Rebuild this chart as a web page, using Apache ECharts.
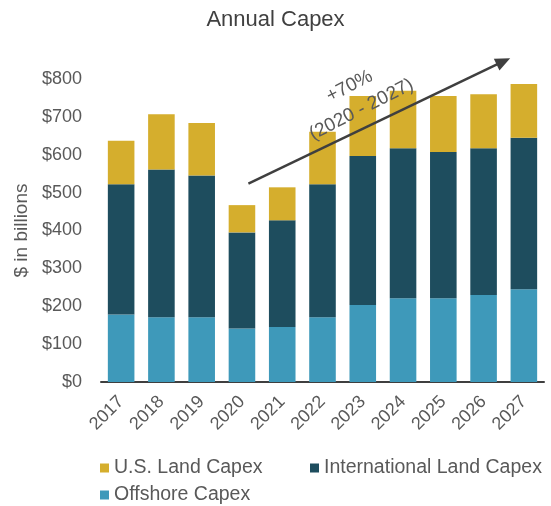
<!DOCTYPE html>
<html>
<head>
<meta charset="utf-8">
<script src="https://cdn.jsdelivr.net/npm/echarts@6/dist/echarts.min.js"></script>
<style>
  html, body { margin: 0; padding: 0; background: #ffffff; }
  #chart { width: 551px; height: 506px; }
</style>
</head>
<body>
<div id="chart"></div>
<script>
// Annual capex by segment, $ billions (stacked)
const years = ['2017', '2018', '2019', '2020', '2021', '2022', '2023', '2024', '2025', '2026', '2027'];
const offshoreCapex = [178, 171, 171, 141, 145, 171, 203, 221, 221, 230, 245];
const internationalLandCapex = [344, 390, 374, 254, 282, 351, 394, 396, 386, 387, 400];
const usLandCapex = [115, 146, 139, 72, 87, 139, 158, 152, 148, 143, 142];

// Growth annotation: arrow from/to (category index, value) and label anchor
const growthLabel = '+70%\n(2020 - 2027)';
const arrowFrom = [3.16, 524];
const arrowTo = [9.66, 855];
const labelAt = [5.82, 750];

const FONT = '"Liberation Sans", Arial, Helvetica, sans-serif';
const TEXT = '#595959';
const C_US = '#D5AE2D';
const C_INTL = '#1E4D5E';
const C_OFF = '#3E99BA';

const chart = echarts.init(document.getElementById('chart'), null, { renderer: 'canvas' });

const legendBase = {
  orient: 'horizontal',
  padding: 0,
  icon: 'rect',
  itemWidth: 9,
  itemHeight: 9,
  itemGap: 10,
  textStyle: { fontFamily: FONT, fontSize: 19.5, color: TEXT },
  selectedMode: false
};

chart.setOption({
  animation: false,
  backgroundColor: '#ffffff',
  title: {
    text: 'Annual Capex',
    left: 'center',
    top: 9,
    padding: 0,
    textStyle: { fontFamily: FONT, fontSize: 22, fontWeight: 'normal', color: '#404040' }
  },
  legend: [
    Object.assign({}, legendBase, { data: ['U.S. Land Capex'], left: 100, top: 458 }),
    Object.assign({}, legendBase, { data: ['International Land Capex'], left: 310, top: 458 }),
    Object.assign({}, legendBase, { data: ['Offshore Capex'], left: 100, top: 485 })
  ],
  grid: { left: 101, right: 7, top: 79, bottom: 124, containLabel: false },
  xAxis: {
    type: 'category',
    data: years,
    axisLine: { show: true, lineStyle: { color: '#3f3f3f', width: 2 } },
    axisTick: { show: false },
    axisLabel: {
      rotate: 45,
      margin: 17,
      interval: 0,
      fontFamily: FONT,
      fontSize: 18,
      color: TEXT
    }
  },
  yAxis: {
    type: 'value',
    min: 0,
    max: 800,
    interval: 100,
    name: '$ in billions',
    nameLocation: 'middle',
    nameGap: 70,
    nameRotate: 90,
    nameTextStyle: { fontFamily: FONT, fontSize: 19, color: TEXT },
    axisLine: { show: false },
    axisTick: { show: false },
    splitLine: { show: false },
    axisLabel: {
      margin: 19,
      fontFamily: FONT,
      fontSize: 18,
      color: TEXT,
      formatter: function (v) { return '$' + v; }
    }
  },
  series: [
    {
      name: 'Offshore Capex', type: 'bar', stack: 'capex',
      barCategoryGap: '34%',
      itemStyle: { color: C_OFF },
      data: offshoreCapex
    },
    {
      name: 'International Land Capex', type: 'bar', stack: 'capex',
      barCategoryGap: '34%',
      itemStyle: { color: C_INTL },
      data: internationalLandCapex
    },
    {
      name: 'U.S. Land Capex', type: 'bar', stack: 'capex',
      barCategoryGap: '34%',
      itemStyle: { color: C_US },
      data: usLandCapex
    }
  ]
});

// Map a (fractional category index, value) pair to pixels via the chart's axes
function toPixel(pt) {
  const i0 = Math.floor(pt[0]);
  const f = pt[0] - i0;
  const a = chart.convertToPixel({ gridIndex: 0 }, [i0, pt[1]]);
  const b = chart.convertToPixel({ gridIndex: 0 }, [i0 + 1, pt[1]]);
  return [a[0] + (b[0] - a[0]) * f, a[1]];
}

const p0 = toPixel(arrowFrom);
const p1 = toPixel(arrowTo);
const pl = toPixel(labelAt);
const dx = p1[0] - p0[0];
const dy = p1[1] - p0[1];
const len = Math.sqrt(dx * dx + dy * dy);
const ux = dx / len, uy = dy / len;
const nx = -uy, ny = ux;
const headLen = 15, headHalf = 6.5;
const base = [p1[0] - ux * headLen, p1[1] - uy * headLen];
const angle = Math.atan2(-dy, dx);

chart.setOption({
  graphic: [
    {
      type: 'line',
      z: 100,
      shape: { x1: p0[0], y1: p0[1], x2: p1[0] - ux * 10, y2: p1[1] - uy * 10 },
      style: { stroke: '#3f3f3f', lineWidth: 2.5 }
    },
    {
      type: 'polygon',
      z: 100,
      shape: { points: [p1, [base[0] + nx * headHalf, base[1] + ny * headHalf], [base[0] - nx * headHalf, base[1] - ny * headHalf]] },
      style: { fill: '#3f3f3f' }
    },
    {
      type: 'text',
      z: 100,
      x: pl[0],
      y: pl[1],
      rotation: angle + 0.025,
      style: {
        text: growthLabel,
        fill: TEXT,
        font: '19px ' + FONT,
        align: 'center',
        verticalAlign: 'middle',
        textAlign: 'center',
        textVerticalAlign: 'middle',
        lineHeight: 26
      }
    }
  ]
});
</script>
</body>
</html>
